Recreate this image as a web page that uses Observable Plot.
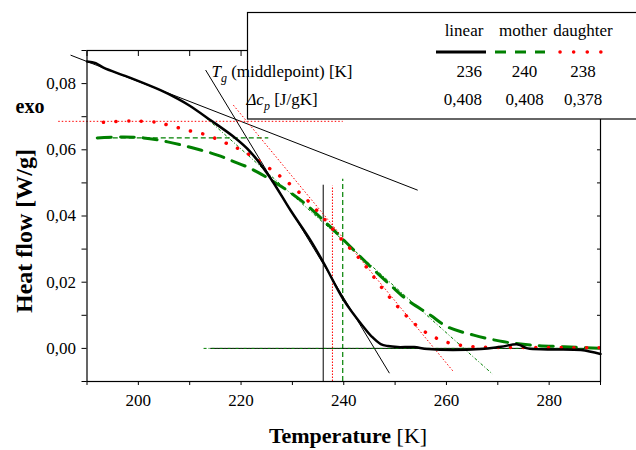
<!DOCTYPE html>
<html>
<head>
<meta charset="utf-8">
<script src="https://cdn.jsdelivr.net/npm/d3@7"></script>
<script src="https://cdn.jsdelivr.net/npm/@observablehq/plot@0.6"></script>
<style>
  html, body { margin: 0; padding: 0; background: white; }
  #chart svg text, #chart svg tspan { font-family: "Liberation Serif", "Times New Roman", serif !important; }
</style>
</head>
<body>
<div id="chart"></div>
<script>
// ---------- data ----------
const linearT  = [190, 191.7, 193.2, 197.8, 204.3, 207.8, 210, 214, 218.5, 221.8, 225.7, 229.6, 233.5, 236.1, 240, 243.9, 245.5, 247.2, 248.6, 250.5, 253.7, 256.4, 266.7, 270.6, 273.9, 275.8, 279.7, 286.2, 290];
const linearHF = [0.0867, 0.0862, 0.0848, 0.0821, 0.0780, 0.0753, 0.0733, 0.0690, 0.0640, 0.0594, 0.0515, 0.0418, 0.0327, 0.0258, 0.0146, 0.0064, 0.0035, 0.0013, 0.0007, 0.0004, 0.0004, -0.0002, -0.0002, 0.0005, 0.0012, 0.0000, -0.0003, -0.0005, -0.0017];

const motherT  = [192, 197.2, 201, 205.7, 210.5, 215.4, 218, 221.8, 225.7, 231.6, 237.4, 241.3, 245.2, 249.1, 252.4, 256.9, 260.2, 265.3, 271.2, 276.5, 282.9, 290];
const motherHF = [0.0636, 0.0639, 0.0636, 0.0624, 0.0606, 0.0584, 0.0568, 0.0544, 0.0510, 0.0448, 0.0367, 0.0307, 0.0247, 0.0191, 0.0146, 0.0100, 0.0065, 0.0040, 0.0020, 0.0010, 0.0005, 0.0000];

const daughterT  = [193.2, 198.5, 203.7, 205.7, 208.2, 210.8, 213.5, 216, 218, 219.9, 222.5, 226.4, 229, 232.9, 236.1, 239.4, 243.3, 247.8, 251.7, 255, 257.5, 260.2, 265.3, 275, 290];
const daughterHF = [0.0683, 0.0687, 0.0683, 0.0675, 0.0665, 0.0654, 0.0644, 0.0627, 0.0614, 0.0600, 0.0577, 0.0534, 0.0503, 0.0448, 0.0393, 0.0332, 0.0267, 0.0176, 0.0106, 0.0059, 0.0035, 0.0018, 0.0005, 0.0003, 0.0002];

// construction (tangent / baseline) segments: [T1, HF1, T2, HF2]
const linearGuides   = [[186.8, 0.0886, 254.4, 0.0478], [213.1, 0.0841, 248.9, -0.0075], [214, 0, 290, 0]];
const motherGuides   = [[191.9, 0.0636, 225.3, 0.0636], [212.1, 0.0712, 269, -0.0078], [212.7, 0, 290, 0]];
const daughterGuides = [[184.4, 0.0686, 239.8, 0.0686], [218.5, 0.0735, 261.4, -0.0071]];

// Tg middle-point vertical markers
const tgLineT   = [236, 239.8, 237.8];
const tgLineTop = [0.0493, 0.0511, 0.0490];

// legend table
const seriesNames = ["linear", "mother", "daughter"];
const tgValues  = [236, 240, 238];
const dcpValues = [0.408, 0.408, 0.378];

// ticks
const xTickLabels = [200, 220, 240, 260, 280];
const xMinorTicks = [190, 200, 210, 220, 230, 240, 250, 260, 270, 280, 290];
const yTickLabels = [0, 0.02, 0.04, 0.06, 0.08];
const yMinorTicks = [-0.01, 0, 0.01, 0.02, 0.03, 0.04, 0.05, 0.06, 0.07, 0.08, 0.09];

// ---------- build tables ----------
const zip = (T, H) => T.map((t, i) => ({t, h: H[i]}));
const linear = zip(linearT, linearHF);
const mother = zip(motherT, motherHF);
const daughter = zip(daughterT, daughterHF);
const seg = a => a.map(([t1, h1, t2, h2]) => ({t1, h1, t2, h2}));
const fmtComma = (d, n) => d.toFixed(n).replace(".", ",");

const GREEN = "#008000", RED = "#ff0000";

const chart = Plot.plot({
  width: 636,
  height: 450,
  marginLeft: 86.5,
  marginRight: 36,
  marginTop: 50,
  marginBottom: 69,
  style: "font-family: 'Liberation Serif', 'Times New Roman', serif; font-size: 17px; color: black; background: white;",
  x: {domain: [190, 290], label: null},
  y: {domain: [-0.01, 0.09], label: null},
  marks: [
    // axes
    Plot.axisX({anchor: "bottom", ticks: xMinorTicks, tickSize: 4, tickPadding: 8,
      tickFormat: d => xTickLabels.includes(d) ? String(d) : "", fontSize: 17, label: null}),
    Plot.axisX({anchor: "top", ticks: xMinorTicks, tickSize: -5, tickFormat: () => "", label: null}),
    Plot.axisY({anchor: "left", ticks: yMinorTicks, tickSize: 5, tickPadding: 6,
      tickFormat: d => yTickLabels.some(v => Math.abs(v - d) < 1e-9) ? fmtComma(d, 2) : "", fontSize: 17, label: null}),
    Plot.axisY({anchor: "right", ticks: yMinorTicks, tickSize: -4, tickFormat: () => "", label: null}),

    // Tg verticals
    Plot.ruleX([0], {x: tgLineT[0], y1: -0.01, y2: tgLineTop[0], stroke: "black", strokeWidth: 1}),
    Plot.ruleX([0], {x: tgLineT[1], y1: -0.01, y2: tgLineTop[1], stroke: GREEN, strokeWidth: 1.2, strokeDasharray: "5,3"}),
    Plot.ruleX([0], {x: tgLineT[2], y1: -0.01, y2: tgLineTop[2], stroke: RED, strokeWidth: 1, strokeDasharray: "1.5,1.5"}),

    // guides
    Plot.link(seg(linearGuides), {x1: "t1", y1: "h1", x2: "t2", y2: "h2", stroke: "black", strokeWidth: 1}),
    Plot.link(seg(motherGuides).slice(0, 1), {x1: "t1", y1: "h1", x2: "t2", y2: "h2", stroke: GREEN, strokeWidth: 1.2, strokeDasharray: "5,3"}),
    Plot.link(seg(motherGuides).slice(1), {x1: "t1", y1: "h1", x2: "t2", y2: "h2", stroke: GREEN, strokeWidth: 1, strokeDasharray: "3,2,1,2"}),
    Plot.link(seg(daughterGuides), {x1: "t1", y1: "h1", x2: "t2", y2: "h2", stroke: RED, strokeWidth: 1, strokeDasharray: "1.5,2"}),

    // curves
    Plot.line(mother, {x: "t", y: "h", stroke: GREEN, strokeWidth: 3, strokeDasharray: "14,9", curve: "catmull-rom"}),
    Plot.line(daughter, {x: "t", y: "h", stroke: RED, strokeWidth: 3.5, strokeDasharray: "0.1,12.5", strokeLinecap: "round", curve: "catmull-rom"}),
    Plot.line(linear, {x: "t", y: "h", stroke: "black", strokeWidth: 2.5, curve: "catmull-rom"}),

    Plot.frame({stroke: "black", strokeWidth: 1.2})
  ]
});

document.getElementById("chart").appendChild(chart);

// ---------- annotations: titles, exo, legend table ----------
const svg = d3.select(chart);
const serif = "'Liberation Serif', 'Times New Roman', serif";

svg.append("text")
  .attr("transform", "translate(32,231) rotate(-90)")
  .attr("text-anchor", "middle")
  .attr("font-family", serif).attr("font-size", 24).attr("font-weight", "bold")
  .attr("fill", "black")
  .text("Heat flow [W/g]");

const xt = svg.append("text")
  .attr("x", 348).attr("y", 443)
  .attr("text-anchor", "middle")
  .attr("font-family", serif).attr("font-size", 22).attr("fill", "black");
xt.append("tspan").attr("font-weight", "bold").text("Temperature ");
xt.append("tspan").text("[K]");

svg.append("text")
  .attr("x", 30).attr("y", 113)
  .attr("font-family", serif).attr("font-size", 20).attr("font-weight", "bold")
  .attr("fill", "black").text("exo");

const lg = svg.append("g").attr("font-family", serif).attr("font-size", 17).attr("fill", "black");
lg.append("rect").attr("x", 247.5).attr("y", 12.5).attr("width", 420).attr("height", 106.5)
  .attr("fill", "white").attr("stroke", "black").attr("stroke-width", 1.2);

const headX = [464, 523, 583];
seriesNames.forEach((n, i) => {
  lg.append("text").attr("x", headX[i]).attr("y", 36).attr("text-anchor", "middle").text(n);
});
lg.append("line").attr("x1", 436).attr("x2", 486).attr("y1", 52).attr("y2", 52)
  .attr("stroke", "black").attr("stroke-width", 3);
lg.append("line").attr("x1", 495).attr("x2", 545).attr("y1", 52).attr("y2", 52)
  .attr("stroke", GREEN).attr("stroke-width", 3).attr("stroke-dasharray", "11,9");
lg.append("line").attr("x1", 560).attr("x2", 604).attr("y1", 52).attr("y2", 52)
  .attr("stroke", RED).attr("stroke-width", 3.5).attr("stroke-dasharray", "0.1,13.5").attr("stroke-linecap", "round");

const r1 = lg.append("text").attr("x", 282).attr("y", 77);
r1.append("tspan").attr("font-style", "italic").text("T");
r1.append("tspan").attr("font-style", "italic").attr("font-size", 12).attr("dy", 5).text("g");
r1.append("tspan").attr("dy", -5).text(" (middlepoint) [K]");

const r2 = lg.append("text").attr("x", 282).attr("y", 105);
r2.append("tspan").attr("font-style", "italic").text("\u0394c");
r2.append("tspan").attr("font-style", "italic").attr("font-size", 12).attr("dy", 5).text("p");
r2.append("tspan").attr("dy", -5).text(" [J/gK]");

const colX = [482, 524.5, 583];
const colAnchor = ["end", "middle", "middle"];
tgValues.forEach((v, i) => {
  lg.append("text").attr("x", colX[i]).attr("y", 77).attr("text-anchor", colAnchor[i]).text(String(v));
});
dcpValues.forEach((v, i) => {
  lg.append("text").attr("x", colX[i]).attr("y", 105).attr("text-anchor", colAnchor[i]).text(fmtComma(v, 3));
});
</script>
</body>
</html>
